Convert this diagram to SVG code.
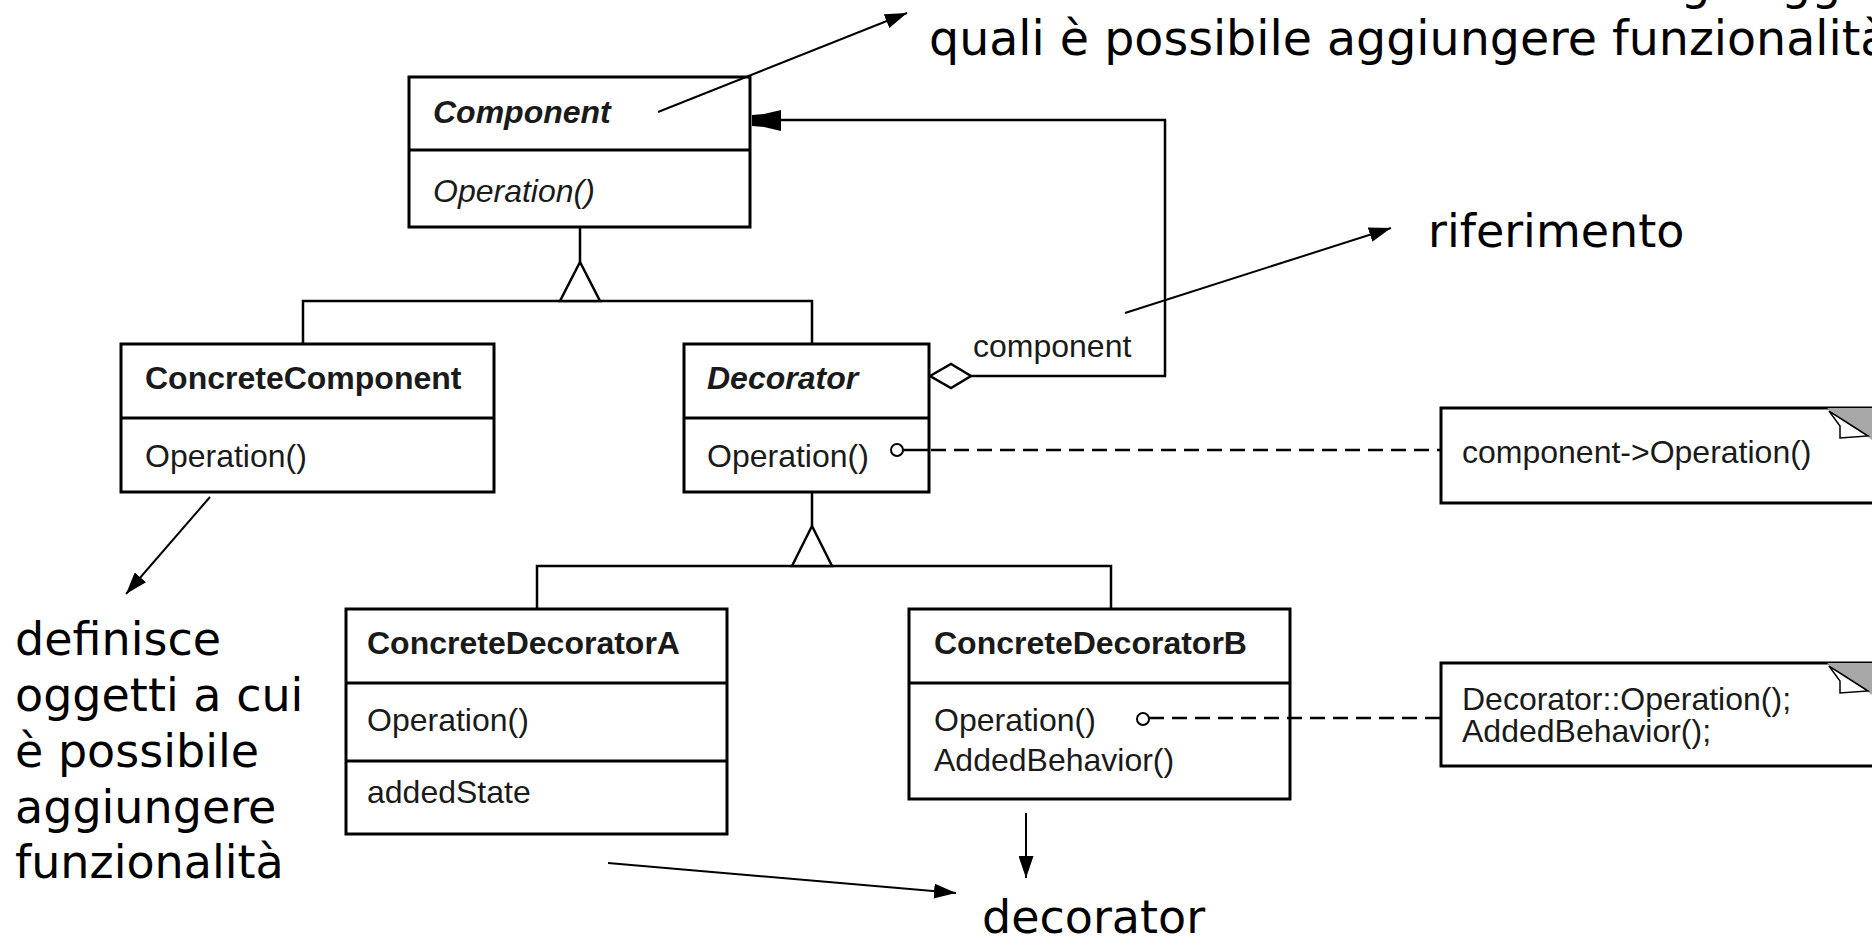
<svg xmlns="http://www.w3.org/2000/svg" width="1872" height="943" viewBox="0 0 1872 943">
<style>
.box{fill:#fff;stroke:#000;stroke-width:3}
.div{stroke:#000;stroke-width:3}
.con{fill:none;stroke:#000;stroke-width:2.5}
.dash{fill:none;stroke:#000;stroke-width:2.5;stroke-dasharray:15 8}
.ann{fill:none;stroke:#000;stroke-width:2}
.uml{font-family:"Liberation Sans",Arial,sans-serif;font-size:32px;fill:#1a1a1a}
.b{font-weight:bold}
.i{font-style:italic}
.big{font-family:"DejaVu Sans",Verdana,sans-serif;font-size:46px;fill:#000}
.top{font-size:47.5px}
</style>
<defs>
<marker id="arr" viewBox="0 0 22 15" refX="22" refY="7.5" markerWidth="22" markerHeight="15" markerUnits="userSpaceOnUse" orient="auto">
<path d="M0,0 L22,7.5 L0,15 Z" fill="#000"/>
</marker>
</defs>

<g id="component">
<rect class="box" x="409" y="77" width="341" height="150"/>
<line class="div" x1="409" y1="150" x2="750" y2="150"/>
<text class="uml b i" x="433" y="123">Component</text>
<text class="uml i" x="433" y="202">Operation()</text>
</g>

<g id="concrete-component">
<rect class="box" x="121" y="344" width="373" height="148"/>
<line class="div" x1="121" y1="418" x2="494" y2="418"/>
<text class="uml b" x="145" y="389">ConcreteComponent</text>
<text class="uml" x="145" y="467">Operation()</text>
</g>

<g id="decorator">
<rect class="box" x="684" y="344" width="245" height="148"/>
<line class="div" x1="684" y1="418" x2="929" y2="418"/>
<text class="uml b i" x="707" y="389">Decorator</text>
<text class="uml" x="707" y="467">Operation()</text>
</g>

<g id="concrete-decorator-a">
<rect class="box" x="346" y="609" width="381" height="225"/>
<line class="div" x1="346" y1="683" x2="727" y2="683"/>
<line class="div" x1="346" y1="761" x2="727" y2="761"/>
<text class="uml b" x="367" y="654">ConcreteDecoratorA</text>
<text class="uml" x="367" y="731">Operation()</text>
<text class="uml" x="367" y="803">addedState</text>
</g>

<g id="concrete-decorator-b">
<rect class="box" x="909" y="609" width="381" height="190"/>
<line class="div" x1="909" y1="683" x2="1290" y2="683"/>
<text class="uml b" x="934" y="654">ConcreteDecoratorB</text>
<text class="uml" x="934" y="731">Operation()</text>
<text class="uml" x="934" y="771">AddedBehavior()</text>
</g>

<g id="note-1">
<path d="M1880,503 H1441 V408 H1880" fill="#fff" stroke="#000" stroke-width="3"/>
<polygon points="1827,408 1872,408 1872,440" fill="#a8a8a8"/>
<polygon points="1829,411 1840,426 1840,438 1868,436" fill="#fff" stroke="#000" stroke-width="1.5"/>
<text class="uml" x="1462" y="463">component-&gt;Operation()</text>
</g>

<g id="note-2">
<path d="M1880,766 H1441 V663 H1880" fill="#fff" stroke="#000" stroke-width="3"/>
<polygon points="1827,663 1872,663 1872,695" fill="#a8a8a8"/>
<polygon points="1829,666 1840,681 1840,693 1868,691" fill="#fff" stroke="#000" stroke-width="1.5"/>
<text class="uml" x="1462" y="710">Decorator::Operation();</text>
<text class="uml" x="1462" y="742">AddedBehavior();</text>
</g>

<g id="connectors">
<!-- inheritance from Component -->
<path class="con" d="M580,227 V262"/>
<path class="con" d="M303,344 V301 H812 V344"/>
<polygon points="580,262 560,301 600,301" fill="#fff" stroke="#000" stroke-width="2.5"/>
<!-- inheritance from Decorator -->
<path class="con" d="M812,492 V526"/>
<path class="con" d="M537,609 V566 H1111 V609"/>
<polygon points="812,526 792,566 832,566" fill="#fff" stroke="#000" stroke-width="2.5"/>
<!-- aggregation Decorator -> Component -->
<polygon points="930,376 951,364 971,376 951,388" fill="#fff" stroke="#000" stroke-width="2.5"/>
<path class="con" d="M971,376 H1165 V120 H780"/>
<polygon points="752,115 764,114 781,110 781,131 764,127 752,126" fill="#000"/>
<text class="uml" x="973" y="357">component</text>
<!-- note links -->
<circle cx="897" cy="450" r="6" fill="#fff" stroke="#000" stroke-width="2"/>
<path class="con" d="M903,450 H929"/>
<path class="dash" d="M931,450 H1441"/>
<circle cx="1143" cy="719" r="6" fill="#fff" stroke="#000" stroke-width="2"/>
<path class="dash" d="M1149,718 H1441"/>
<!-- annotation arrows -->
<path class="ann" d="M658,112 L907,13" marker-end="url(#arr)"/>
<path class="ann" d="M1125,313 L1391,228" marker-end="url(#arr)"/>
<path class="ann" d="M210,497 L126,594" marker-end="url(#arr)"/>
<path class="ann" d="M608,863 L956,893" marker-end="url(#arr)"/>
<path class="ann" d="M1026,813 L1026,878" marker-end="url(#arr)"/>
</g>

<g id="labels">
<text class="big top" x="1621" y="-1">degli oggetti ai</text>
<text class="big top" x="929" y="55">quali è possibile aggiungere funzionalità</text>
<text class="big" x="1428" y="247">riferimento</text>
<text class="big" x="15" y="655">definisce</text>
<text class="big" x="15" y="711">oggetti a cui</text>
<text class="big" x="15" y="767">è possibile</text>
<text class="big" x="15" y="823">aggiungere</text>
<text class="big" x="15" y="878">funzionalità</text>
<text class="big" x="982" y="933">decorator</text>
</g>
</svg>
